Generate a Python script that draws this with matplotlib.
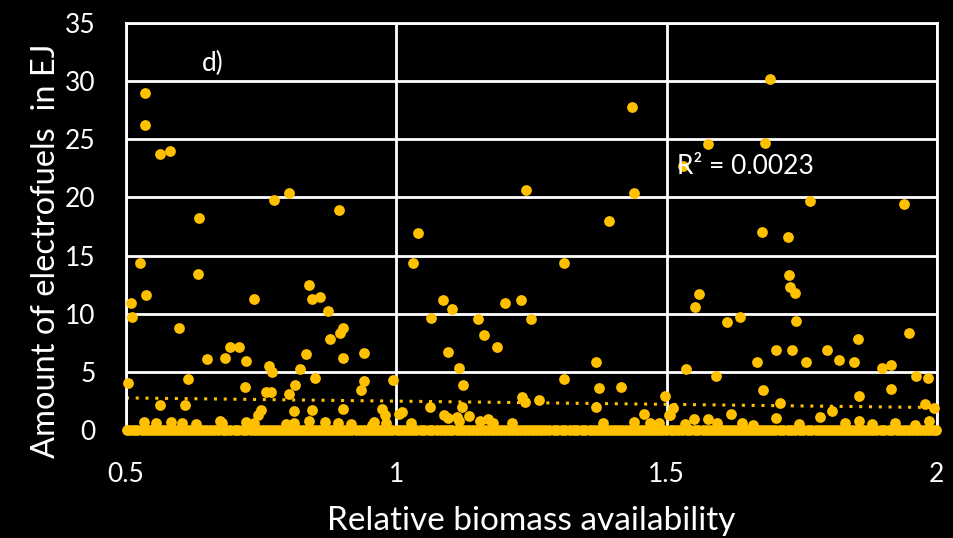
import matplotlib.pyplot as plt

# points above zero (x = relative biomass, y = EJ)
x_pts = [0.504, 0.509, 0.511, 0.526, 0.535, 0.535, 0.537, 0.563, 0.581, 0.598,
         0.635, 0.633, 0.615, 0.650, 0.683, 0.692, 0.709, 0.722, 0.720, 0.737,
         0.764, 0.770, 0.774, 0.801, 0.894, 0.838, 0.844, 0.859, 0.874, 0.901,
         0.896, 0.877, 0.833, 0.901, 0.940, 0.822, 0.759, 0.768, 0.813, 0.850,
         0.940, 0.934, 0.994, 0.801, 0.563, 0.609, 0.811, 0.844, 0.901, 0.750,
         0.744, 0.974, 0.979, 1.005, 0.533, 0.555, 0.583, 0.604, 0.629, 0.674,
         0.678, 0.722, 0.736, 0.797, 0.810, 0.839, 0.868, 0.892, 0.916, 0.958,
         0.955, 0.981,
         1.437, 1.240, 1.439, 1.393, 1.041, 1.031, 1.310, 1.087, 1.103, 1.065,
         1.151, 1.202, 1.231, 1.249, 1.162, 1.186, 1.095, 1.117, 1.123, 1.310,
         1.370, 1.375, 1.416, 1.497, 1.232, 1.238, 1.265, 1.010, 1.062, 1.121,
         1.088, 1.095, 1.112, 1.116, 1.134, 1.155, 1.169, 1.179, 1.214, 1.370,
         1.382, 1.459, 1.440, 1.470, 1.486, 1.027, 1.504,
         1.691, 1.576, 1.682, 1.531, 1.766, 1.939, 1.676, 1.725, 1.726, 1.728,
         1.737, 1.560, 1.552, 1.611, 1.636, 1.740, 1.703, 1.733, 1.668, 1.758,
         1.797, 1.819, 1.846, 1.854, 1.948, 1.898, 1.915, 1.536, 1.592, 1.962,
         1.984, 1.916, 1.679, 1.856, 1.710, 1.619, 1.807, 1.978, 1.994, 1.512,
         1.506, 1.550, 1.576, 1.594, 1.703, 1.783, 1.856, 1.922, 1.986, 1.534,
         1.640, 1.660, 1.745, 1.830, 1.880, 1.960]
y_pts = [4.0, 10.9, 9.7, 14.4, 29.0, 26.2, 11.6, 23.7, 24.0, 8.8,
         18.2, 13.4, 4.4, 6.1, 6.2, 7.1, 7.1, 5.9, 3.7, 11.3,
         5.5, 5.0, 19.8, 20.4, 18.9, 12.5, 11.3, 11.4, 10.2, 8.8,
         8.3, 7.8, 6.5, 6.2, 6.6, 5.2, 3.3, 3.3, 3.9, 4.5,
         4.2, 3.4, 4.3, 3.1, 2.1, 2.1, 1.6, 1.7, 1.8, 1.7,
         1.3, 1.8, 1.3, 1.4, 0.7, 0.6, 0.7, 0.6, 0.5, 0.8,
         0.6, 0.7, 0.6, 0.5, 0.6, 0.8, 0.7, 0.6, 0.5, 0.7,
         0.4, 0.6,
         27.8, 20.6, 20.4, 18.0, 16.9, 14.4, 14.4, 11.2, 10.4, 9.6,
         9.5, 10.9, 11.2, 9.5, 8.2, 7.1, 6.7, 5.3, 3.9, 4.4,
         5.8, 3.6, 3.7, 2.9, 2.8, 2.4, 2.6, 1.5, 2.0, 2.0,
         1.3, 1.0, 1.1, 0.8, 1.2, 0.8, 0.9, 0.6, 0.6, 2.0,
         0.6, 1.4, 0.7, 0.6, 0.6, 0.6, 1.3,
         30.2, 24.6, 24.7, 22.7, 19.7, 19.4, 17.0, 16.6, 13.3, 12.3,
         11.8, 11.7, 10.6, 9.3, 9.7, 9.4, 6.9, 6.9, 5.8, 5.8,
         6.9, 6.0, 5.8, 7.8, 8.3, 5.3, 5.6, 5.2, 4.6, 4.6,
         4.5, 3.5, 3.4, 2.9, 2.3, 1.4, 1.6, 2.2, 1.9, 1.9,
         1.3, 0.9, 0.9, 0.6, 1.0, 1.1, 0.8, 0.6, 0.8, 0.5,
         0.6, 0.4, 0.5, 0.6, 0.5, 0.4]

# runs that ended at zero electrofuels
x_zero = [0.502, 0.508, 0.515, 0.521, 0.529, 0.537, 0.544, 0.552, 0.559, 0.566,
          0.574, 0.581, 0.589, 0.596, 0.603, 0.611, 0.618, 0.626, 0.633, 0.641,
          0.648, 0.655, 0.663, 0.671, 0.679, 0.686, 0.693, 0.701, 0.708, 0.716,
          0.723, 0.731, 0.738, 0.746, 0.753, 0.761, 0.768, 0.775, 0.783, 0.790,
          0.798, 0.805, 0.813, 0.820, 0.827, 0.835, 0.842, 0.850, 0.857, 0.865,
          0.872, 0.879, 0.887, 0.894, 0.902, 0.909, 0.917, 0.926, 0.933, 0.941,
          0.948, 0.955, 0.963, 0.970, 0.978, 0.985, 0.993, 1.001, 1.007, 1.015,
          1.022, 1.030, 1.037, 1.045, 1.052, 1.060, 1.067, 1.075, 1.082, 1.090,
          1.097, 1.104, 1.112, 1.119, 1.127, 1.134, 1.142, 1.149, 1.157, 1.164,
          1.171, 1.179, 1.186, 1.194, 1.201, 1.209, 1.216, 1.224, 1.231, 1.238,
          1.246, 1.253, 1.261, 1.268, 1.276, 1.283, 1.291, 1.298, 1.306, 1.313,
          1.321, 1.328, 1.335, 1.343, 1.350, 1.358, 1.365, 1.373, 1.380, 1.388,
          1.395, 1.402, 1.410, 1.417, 1.425, 1.432, 1.440, 1.447, 1.455, 1.462,
          1.469, 1.477, 1.484, 1.492, 1.499, 1.508, 1.514, 1.522, 1.529, 1.537,
          1.544, 1.552, 1.559, 1.567, 1.574, 1.582, 1.589, 1.597, 1.604, 1.612,
          1.619, 1.626, 1.634, 1.641, 1.649, 1.656, 1.664, 1.671, 1.679, 1.686,
          1.694, 1.701, 1.709, 1.716, 1.724, 1.731, 1.738, 1.746, 1.753, 1.761,
          1.768, 1.776, 1.783, 1.791, 1.798, 1.806, 1.813, 1.821, 1.828, 1.836,
          1.843, 1.851, 1.858, 1.866, 1.873, 1.881, 1.888, 1.896, 1.903, 1.911,
          1.918, 1.926, 1.933, 1.941, 1.948, 1.956, 1.963, 1.971, 1.978, 1.986,
          1.993, 1.998]

# linear trendline as drawn in the chart
trend_x = [0.5, 2.0]
trend_y = [2.75, 1.92]
r2_text = "R² = 0.0023"

gold = "#FFC000"
font = "Lato"

fig = plt.figure(figsize=(9.54, 5.38), dpi=100, facecolor="black")
ax = fig.add_axes([0.132, 0.201, 0.850, 0.756], facecolor="black")

ax.scatter(x_zero, [0] * len(x_zero), s=60, color=gold, zorder=3, clip_on=False, linewidths=0)
ax.scatter(x_pts, y_pts, s=60, color=gold, zorder=3, clip_on=False, linewidths=0)
ax.plot(trend_x, trend_y, color=gold, linestyle=(0, (1, 2.2)), linewidth=2.2, zorder=2)

ax.set_xlim(0.5, 2.0)
ax.set_ylim(0, 35)
ax.set_xticks([0.5, 1, 1.5, 2])
ax.set_xticklabels(["0.5", "1", "1.5", "2"])
ax.set_yticks(range(0, 36, 5))
ax.grid(True, color="white", linewidth=2)
ax.set_axisbelow(True)
for sp in ax.spines.values():
    sp.set_color("white")
    sp.set_linewidth(2)
ax.tick_params(length=0, colors="white", labelsize=19)
ax.tick_params(axis="x", pad=23)
ax.tick_params(axis="y", pad=22)
for lab in ax.get_xticklabels() + ax.get_yticklabels():
    lab.set_fontfamily(font)

ax.set_xlabel("Relative biomass availability", color="white", fontsize=24, family=font, labelpad=14)
ax.set_ylabel("Amount of electrofuels  in EJ", color="white", fontsize=23.5, family=font)
ax.yaxis.set_label_coords(-0.08, 0.44)

ax.text(0.64, 31.5, "d)", color="white", fontsize=19, family=font, va="center")
ax.text(1.52, 22.7, r2_text, color="white", fontsize=19, family=font, va="center")

fig.savefig("out.png", dpi=100, facecolor="black")
